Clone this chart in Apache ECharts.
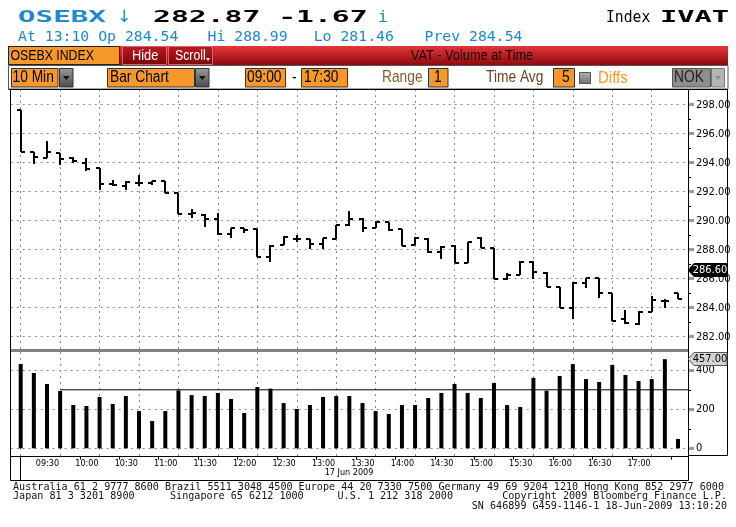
<!DOCTYPE html>
<html><head><meta charset="utf-8">
<script src="https://cdn.jsdelivr.net/npm/echarts@6/dist/echarts.min.js"></script>
<style>html,body{margin:0;padding:0;background:#fff;}#c{width:736px;height:527px;}</style>
</head><body><div id="c"></div>
<script>
// ---------------- data ----------------
const times = ['09:00','09:10','09:20','09:30','09:40','09:50',
 '10:00','10:10','10:20','10:30','10:40','10:50',
 '11:00','11:10','11:20','11:30','11:40','11:50',
 '12:00','12:10','12:20','12:30','12:40','12:50',
 '13:00','13:10','13:20','13:30','13:40','13:50',
 '14:00','14:10','14:20','14:30','14:40','14:50',
 '15:00','15:10','15:20','15:30','15:40','15:50',
 '16:00','16:10','16:20','16:30','16:40','16:50',
 '17:00','17:10','17:20'];
const openP  = [297.63,294.71,294.34,294.64,294.34,293.98,293.61,292.51,292.41,292.57,292.60,292.74,291.93,290.46,290.39,290.11,289.06,289.47,289.43,287.52,288.32,288.74,288.74,288.37,288.74,289.70,290.11,289.52,289.89,289.43,288.32,288.74,287.86,288.28,287.06,288.83,288.14,285.95,286.25,287.17,286.41,285.45,283.95,285.72,286.02,284.99,283.22,282.85,283.72,284.46,284.99];
const highP  = [297.63,294.71,295.49,294.64,294.41,294.30,293.61,292.83,292.71,293.13,292.74,292.74,291.93,290.78,290.44,290.51,289.47,289.47,289.43,288.32,288.97,289.01,288.74,288.78,289.70,290.67,290.16,289.98,289.93,289.43,288.85,288.78,288.25,288.32,288.55,288.90,288.14,286.37,287.22,287.22,286.44,285.45,285.79,286.07,286.02,284.99,283.84,283.77,284.80,284.57,285.03];
const lowP   = [294.76,293.89,294.34,293.82,293.95,293.40,292.14,292.41,292.09,292.41,292.44,291.89,290.44,290.16,289.59,289.01,288.78,289.17,287.52,287.17,288.30,288.55,288.02,288.02,288.74,289.66,289.20,289.47,289.29,288.25,288.32,287.75,287.36,287.06,287.06,288.09,285.95,285.91,286.25,285.98,285.40,283.95,283.22,285.38,284.64,283.10,282.85,282.80,283.72,283.95,284.60];
const closeP = [294.76,294.39,294.71,294.25,294.09,293.56,292.51,292.46,292.67,292.57,292.72,291.89,290.44,290.51,290.11,289.06,289.47,289.36,287.52,288.28,288.90,288.74,288.37,288.78,289.70,290.11,289.52,289.93,289.33,288.25,288.78,287.82,288.21,287.06,288.55,288.14,285.95,286.25,287.17,286.48,285.45,283.95,285.72,286.02,284.99,283.10,282.97,283.72,284.53,284.46,284.60];
const volume = [432,386,330,294,222,217,263,227,268,191,140,191,297,273,268,284,253,181,314,306,232,202,222,263,268,268,232,191,176,222,222,258,284,330,284,258,335,222,212,361,296,371,432,355,340,427,376,345,355,457,48];
const avgVolume = 300;
const avgStart = '09:30';
const lastPriceTag = 286.60;
const maxVolumeTag = 457.00;
const timeLabels = ['09:30','10:00','10:30','11:00','11:30','12:00','12:30','13:00','13:30','14:00','14:30','15:00','15:30','16:00','16:30','17:00'];
const tickTimes = ['09:45','10:15','10:45','11:15','11:45','12:15','12:45','13:15','13:45','14:15','14:45','15:15','15:45','16:15','16:45','17:15'];
const dateLabel = '17 Jun 2009';

// ---------------- helpers ----------------
const toMin = s => { const p = s.split(':'); return (+p[0] - 9) * 60 + (+p[1]); };
const labelMins = timeLabels.map(toMin);
const labelMap = {}; timeLabels.forEach(s => labelMap[toMin(s)] = s);
const X_MAX = 507.6;
const ohlc = times.map((t, i) => [toMin(t), openP[i], highP[i], lowP[i], closeP[i]]);
const volData = times.map((t, i) => [toMin(t), volume[i]]);

const chart = echarts.init(document.getElementById('c'), null, {renderer: 'canvas'});
const grid = '#8a8a8a';
const axisFont = 'Liberation Sans Narrow, DejaVu Sans Condensed, Liberation Sans, sans-serif';
const noZero = {show: false, onZero: false};

const option = {
  animation: false,
  backgroundColor: '#fff',
  grid: [
    {left: 20.7, top: 89, width: 667.3, height: 260},
    {left: 10.7, top: 104.7, width: 677.3, height: 232},
    {left: 20.7, top: 352, width: 667.3, height: 104.7},
    {left: 10.7, top: 370.3, width: 677.3, height: 78},
    {left: 20.7, top: 456.7, width: 667.3, height: 23.3}
  ],
  xAxis: [
    {gridIndex: 0, type: 'value', min: 0, max: X_MAX, interval: 30, axisLine: noZero, axisTick: {show: false}, axisLabel: {show: false}, splitLine: {show: true, lineStyle: {color: grid, type: [2, 4]}}},
    {gridIndex: 1, type: 'value', min: 0, max: 1, axisLine: noZero, axisTick: {show: false}, axisLabel: {show: false}, splitLine: {show: false}},
    {gridIndex: 2, type: 'value', min: 0, max: X_MAX, interval: 30, axisLine: noZero, axisTick: {show: false}, axisLabel: {show: false}, splitLine: {show: true, lineStyle: {color: grid, type: [2, 4]}}},
    {gridIndex: 3, type: 'value', min: 0, max: 1, axisLine: noZero, axisTick: {show: false}, axisLabel: {show: false}, splitLine: {show: false}},
    {gridIndex: 4, type: 'value', position: 'top', min: 0, max: X_MAX, axisLine: noZero, splitLine: {show: false},
      axisTick: {show: true, inside: true, length: 3, customValues: tickTimes.map(toMin), lineStyle: {color: '#000'}},
      axisLabel: {show: true, inside: true, customValues: labelMins, formatter: v => labelMap[v] || '', align: 'right', verticalAlign: 'top', margin: 2, fontSize: 9, fontFamily: axisFont, color: '#000', padding: [0, 1, 0, 0]}}
  ],
  yAxis: [
    {gridIndex: 0, type: 'value', min: 281.152, max: 299.083, axisLine: noZero, axisTick: {show: false}, axisLabel: {show: false}, splitLine: {show: false}},
    {gridIndex: 1, type: 'value', position: 'right', min: 282, max: 298, interval: 2,
      axisLine: noZero, axisTick: {show: true, length: 6, lineStyle: {color: '#9a9a9a', width: 3}},
      minorTick: {show: true, splitNumber: 2, length: 3, lineStyle: {color: '#000'}},
      axisLabel: {formatter: v => v.toFixed(2), margin: 8, fontSize: 11, fontFamily: axisFont, color: '#000'},
      splitLine: {show: true, lineStyle: {color: grid, type: [2, 4]}}},
    {gridIndex: 2, type: 'value', min: -43.08, max: 493.85, axisLine: noZero, axisTick: {show: false}, axisLabel: {show: false}, splitLine: {show: false}},
    {gridIndex: 3, type: 'value', position: 'right', min: 0, max: 400, interval: 200,
      axisLine: noZero, axisTick: {show: true, length: 6, lineStyle: {color: '#9a9a9a', width: 3}},
      minorTick: {show: true, splitNumber: 2, length: 3, lineStyle: {color: '#000'}},
      axisLabel: {margin: 8, fontSize: 11, fontFamily: axisFont, color: '#000'},
      splitLine: {show: true, lineStyle: {color: grid, type: [2, 4]}}},
    {gridIndex: 4, type: 'value', min: 0, max: 1, axisLine: noZero, axisTick: {show: false}, axisLabel: {show: false}, splitLine: {show: false}}
  ],
  series: [
    {type: 'custom', xAxisIndex: 0, yAxisIndex: 0, data: ohlc, clip: false, z: 5,
      renderItem: function (params, api) {
        const t = api.value(0);
        const o = api.coord([t, api.value(1)]);
        const h = api.coord([t, api.value(2)]);
        const l = api.coord([t, api.value(3)]);
        const c = api.coord([t, api.value(4)]);
        const x = Math.round(h[0]);
        const st = {stroke: '#000', lineWidth: 2};
        return {type: 'group', children: [
          {type: 'line', shape: {x1: x, y1: Math.round(h[1]), x2: x, y2: Math.round(l[1])}, style: st},
          {type: 'line', shape: {x1: x - 4, y1: Math.round(o[1]), x2: x, y2: Math.round(o[1])}, style: st},
          {type: 'line', shape: {x1: x, y1: Math.round(c[1]), x2: x + 4, y2: Math.round(c[1])}, style: st}
        ]};
      }},
    {type: 'bar', xAxisIndex: 2, yAxisIndex: 2, data: volData, barWidth: 4, clip: false, z: 5,
      itemStyle: {color: '#000'}},
    {type: 'line', xAxisIndex: 2, yAxisIndex: 2, data: [[toMin(avgStart), avgVolume], [X_MAX, avgVolume]],
      symbol: 'none', lineStyle: {color: '#000', width: 1}, z: 6}
  ]
};
chart.setOption(option);

// ---------------- decoration ----------------
function T(text, x, y, o) {
  o = o || {};
  return {type: 'text', x: x, y: y, scaleX: o.sx || 1, silent: true, z: o.z || 120,
    style: {text: text, fill: o.c || '#000',
      font: (o.w || 'normal') + ' ' + (o.s || 12) + 'px ' + (o.f || 'Liberation Sans'),
      textAlign: o.a || 'left', textVerticalAlign: o.v || 'middle'}};
}
function R(x, y, w, h, fill, stroke, lw, z) {
  return {type: 'rect', shape: {x: x, y: y, width: w, height: h}, silent: true, z: z || 110,
    style: {fill: fill || 'none', stroke: stroke || null, lineWidth: lw || 1}};
}
function L(x1, y1, x2, y2, c, w, z) {
  return {type: 'line', shape: {x1: x1, y1: y1, x2: x2, y2: y2}, silent: true, z: z || 115,
    style: {stroke: c || '#000', lineWidth: w || 1}};
}
function P(pts, fill, stroke, z) {
  return {type: 'polygon', shape: {points: pts}, silent: true, z: z || 118, style: {fill: fill, stroke: stroke || null, lineWidth: 1}};
}
const G = (a, b) => new echarts.graphic.LinearGradient(0, 0, 0, 1, [{offset: 0, color: a}, {offset: 1, color: b}]);

const blue = '#1f88d2';
const orange = '#f7982a';
const mono = 'DejaVu Sans Mono';
const els = [];
// header line 1
els.push(T('OSEBX', 18, 18, {f: mono, w: 'bold', s: 16.5, sx: 1.77, c: blue}));
els.push(T('\u2193', 117, 18, {f: 'DejaVu Sans', s: 17, c: blue}));
els.push(T('282.87 -1.67', 153, 18, {f: mono, w: 'bold', s: 16.5, sx: 1.80, c: '#000'}));
els.push(T('i', 378, 18, {f: mono, s: 16.5, c: blue}));
els.push(T('Index', 606, 18, {f: mono, s: 16, sx: 0.92}));
els.push(T('IVAT', 660, 18, {f: mono, w: 'bold', s: 16.5, sx: 1.74}));
// header line 2
els.push(T('At 13:10 Op 284.54', 18, 37, {f: mono, s: 14.8, c: blue}));
els.push(T('Hi 288.99', 207.5, 37, {f: mono, s: 14.8, c: blue}));
els.push(T('Lo 281.46', 313.7, 37, {f: mono, s: 14.8, c: blue}));
els.push(T('Prev 284.54', 424.5, 37, {f: mono, s: 14.8, c: blue}));
// red bar
els.push(R(8, 46, 720, 19, G('#e3373b', '#8e0a0e'), null, 1, 100));
els.push(R(8.5, 46.5, 111, 18, orange, '#222', 1));
els.push(T('OSEBX INDEX', 10.5, 56, {s: 15, sx: 0.82}));
els.push(R(122.5, 46.5, 44, 18, G('#c01a20', '#7a0508'), '#e06068', 1));
els.push(T('Hide', 132, 56, {s: 15, sx: 0.85, c: '#fff'}));
els.push(R(168.5, 46.5, 44, 18, G('#c01a20', '#7a0508'), '#e06068', 1));
els.push(T('Scroll', 175, 56, {s: 15, sx: 0.82, c: '#fff'}));
els.push(P([[206, 58], [210, 58], [208, 61]], '#fff'));
els.push(T('VAT - Volume at Time', 472, 56, {s: 15, sx: 0.85, c: '#1a0000', a: 'center'}));
// row 2
els.push(R(8.5, 65.5, 719.5, 23.5, '#fff', '#555', 1, 100));
function dropArrow(x, w) {
  els.push(R(x + 0.5, 68.5, w, 18.5, G('#9a9a9a', '#4a4a4a'), '#333', 1));
  els.push(P([[x + w / 2 - 3, 76], [x + w / 2 + 4, 76], [x + w / 2 + 0.5, 80]], '#111'));
}
els.push(R(11.5, 68.5, 46.5, 18.5, orange, '#333', 1));
els.push(T('10 Min', 12.5, 78, {s: 16, sx: 0.86}));
dropArrow(59, 13.5);
els.push(R(107.5, 68.5, 87, 18.5, orange, '#333', 1));
els.push(T('Bar Chart', 110, 78, {s: 16, sx: 0.86}));
dropArrow(195, 13.5);
els.push(R(245.5, 68.5, 40, 18.5, orange, '#333', 1));
els.push(T('09:00', 247, 78, {s: 16, sx: 0.86}));
els.push(T('-', 292, 78, {s: 16, sx: 0.86}));
els.push(R(301.5, 68.5, 46, 18.5, orange, '#333', 1));
els.push(T('17:30', 304, 78, {s: 16, sx: 0.86}));
els.push(T('Range', 382, 78, {s: 16, sx: 0.86, c: '#8a5a28'}));
els.push(R(428.5, 68.5, 19.5, 18.5, orange, '#333', 1));
els.push(T('1', 434, 78, {s: 16, sx: 0.86}));
els.push(T('Time Avg', 486, 78, {s: 16, sx: 0.86, c: '#6a4420'}));
els.push(R(553.5, 68.5, 21, 18.5, orange, '#333', 1));
els.push(T('5', 562, 78, {s: 16, sx: 0.86}));
els.push(R(579.5, 72.5, 11, 11, G('#b0b0b0', '#707070'), '#555', 1));
els.push(T('Diffs', 598, 78, {s: 17, sx: 0.88, c: orange}));
els.push(R(672.5, 68.5, 38, 18.5, '#8e8e8e', '#555', 1));
els.push(T('NOK', 674, 78, {s: 16, sx: 0.86, c: '#222'}));
els.push(R(711.5, 68.5, 13, 18.5, '#b4b4b4', '#777', 1));
els.push(P([[715, 76], [721, 76], [718, 80]], '#8a8a8a'));
// chart frame
els.push(L(8.5, 89.5, 728, 89.5));
els.push(L(10.5, 89.5, 10.5, 480.5));
els.push(L(10.5, 480.5, 688.5, 480.5));
els.push(L(688.5, 89.5, 688.5, 480.5));
els.push(L(727.5, 89.5, 727.5, 455.5));
els.push(L(688.5, 455.5, 727.5, 455.5));
els.push(L(10.5, 456.5, 688.5, 456.5));
els.push(L(20.5, 456.5, 20.5, 480.5));
els.push(L(11, 350.5, 688, 350.5, '#808080', 3));
els.push(T(dateLabel, 349, 473, {s: 9, f: axisFont, a: 'center'}));
// footer
const ff = {f: mono, s: 10.1, c: '#111'};
els.push(T('Australia 61 2 9777 8600 Brazil 5511 3048 4500 Europe 44 20 7330 7500 Germany 49 69 9204 1210 Hong Kong 852 2977 6000', 13, 487, ff));
els.push(T('Japan 81 3 3201 8900', 13, 496.5, ff));
els.push(T('Singapore 65 6212 1000', 170, 496.5, ff));
els.push(T('U.S. 1 212 318 2000', 337.5, 496.5, ff));
els.push(T('Copyright 2009 Bloomberg Finance L.P.', 727, 496.5, Object.assign({a: 'right'}, ff)));
els.push(T('SN 646899 G459-1146-1 18-Jun-2009 13:10:20', 727, 506.5, Object.assign({a: 'right'}, ff)));
// tags
const yP = Math.round(chart.convertToPixel({yAxisIndex: 1}, lastPriceTag));
els.push(P([[688, yP], [694, yP - 6.5], [727, yP - 6.5], [727, yP + 6.5], [694, yP + 6.5]], '#000', '#000', 130));
els.push(T(lastPriceTag.toFixed(2), 710, yP, {s: 11, f: axisFont, c: '#fff', a: 'center', z: 131}));
const yV = Math.round(chart.convertToPixel({yAxisIndex: 3}, maxVolumeTag));
els.push(P([[688, yV], [694, yV - 6.5], [727, yV - 6.5], [727, yV + 6.5], [694, yV + 6.5]], '#d4d4d4', '#555', 130));
els.push(T(maxVolumeTag.toFixed(2), 710, yV, {s: 11, f: axisFont, c: '#000', a: 'center', z: 131}));

chart.setOption({graphic: {elements: els}});
</script>
</body></html>
